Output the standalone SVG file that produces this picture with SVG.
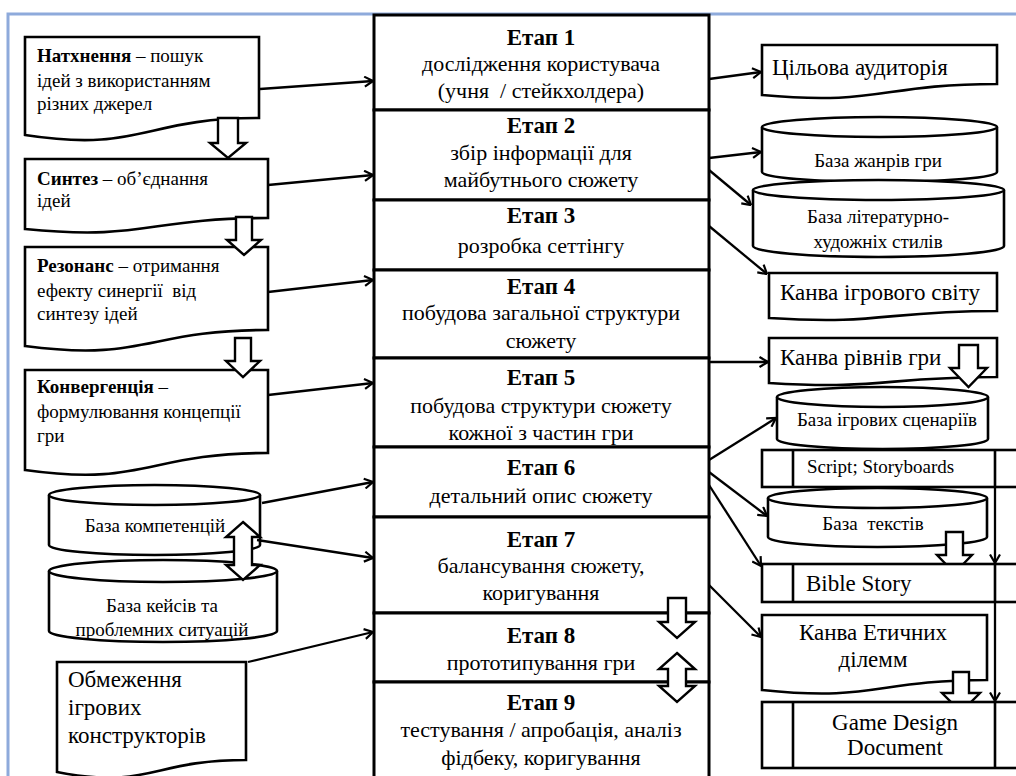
<svg xmlns="http://www.w3.org/2000/svg" width="1016" height="776" viewBox="0 0 1016 776">
<defs>
<style>
.bx{fill:#fff;stroke:#000;stroke-width:2.6;stroke-linejoin:miter}
.st{fill:#fff;stroke:#000;stroke-width:3}
.ba{fill:#fff;stroke:#000;stroke-width:2.4;stroke-linejoin:miter}
.cn{fill:none;stroke:#000;stroke-width:2.3;marker-end:url(#ah)}
.ln{fill:none;stroke:#000;stroke-width:2.6}
</style>
<marker id="ah" viewBox="0 0 10 12" refX="9.5" refY="6" markerWidth="10" markerHeight="12" markerUnits="userSpaceOnUse" orient="auto">
<path d="M1,1 L9.5,6 L1,11" fill="none" stroke="#000" stroke-width="2.2"/>
</marker>
</defs>
<rect x="0" y="0" width="1016" height="776" fill="#fff"/>
<g id="frame">
<path d="M8,776 V14 H1016" fill="none" stroke="#8eaadb" stroke-width="3"/>
</g>

<g id="stage1"><rect class="st" x="374" y="15" width="335" height="95"/>
<text style="font-family:'Liberation Serif',serif !important" font-size="23" font-weight="bold" text-anchor="middle" x="541" y="45">Етап 1</text>
<text style="font-family:'Liberation Serif',serif !important" font-size="22" text-anchor="middle" x="541" y="71">дослідження користувача</text>
<text style="font-family:'Liberation Serif',serif !important;white-space:pre" font-size="22" text-anchor="middle" x="541" y="98">(учня  / стейкхолдера)</text></g>
<g id="stage2"><rect class="st" x="374" y="110" width="335" height="90"/>
<text style="font-family:'Liberation Serif',serif !important" font-size="23" font-weight="bold" text-anchor="middle" x="541" y="133">Етап 2</text>
<text style="font-family:'Liberation Serif',serif !important" font-size="22" text-anchor="middle" x="541" y="160">збір інформації для</text>
<text style="font-family:'Liberation Serif',serif !important" font-size="22" text-anchor="middle" x="541" y="187">майбутнього сюжету</text></g>
<g id="stage3"><rect class="st" x="374" y="200" width="335" height="70"/>
<text style="font-family:'Liberation Serif',serif !important" font-size="23" font-weight="bold" text-anchor="middle" x="541" y="223">Етап 3</text>
<text style="font-family:'Liberation Serif',serif !important" font-size="22" text-anchor="middle" x="541" y="253">розробка сеттінгу</text></g>
<g id="stage4"><rect class="st" x="374" y="270" width="335" height="88"/>
<text style="font-family:'Liberation Serif',serif !important" font-size="23" font-weight="bold" text-anchor="middle" x="541" y="294">Етап 4</text>
<text style="font-family:'Liberation Serif',serif !important" font-size="22" text-anchor="middle" x="541" y="320">побудова загальної структури</text>
<text style="font-family:'Liberation Serif',serif !important" font-size="22" text-anchor="middle" x="541" y="348">сюжету</text></g>
<g id="stage5"><rect class="st" x="374" y="358" width="335" height="89"/>
<text style="font-family:'Liberation Serif',serif !important" font-size="23" font-weight="bold" text-anchor="middle" x="541" y="385">Етап 5</text>
<text style="font-family:'Liberation Serif',serif !important" font-size="22" text-anchor="middle" x="541" y="413">побудова структури сюжету</text>
<text style="font-family:'Liberation Serif',serif !important" font-size="22" text-anchor="middle" x="541" y="440">кожної з частин гри</text></g>
<g id="stage6"><rect class="st" x="374" y="447" width="335" height="70"/>
<text style="font-family:'Liberation Serif',serif !important" font-size="23" font-weight="bold" text-anchor="middle" x="541" y="475">Етап 6</text>
<text style="font-family:'Liberation Serif',serif !important" font-size="22" text-anchor="middle" x="541" y="503">детальний опис сюжету</text></g>
<g id="stage7"><rect class="st" x="374" y="517" width="335" height="96"/>
<text style="font-family:'Liberation Serif',serif !important" font-size="23" font-weight="bold" text-anchor="middle" x="541" y="547">Етап 7</text>
<text style="font-family:'Liberation Serif',serif !important" font-size="22" text-anchor="middle" x="541" y="573">балансування сюжету,</text>
<text style="font-family:'Liberation Serif',serif !important" font-size="22" text-anchor="middle" x="541" y="600">коригування</text></g>
<g id="stage8"><rect class="st" x="374" y="613" width="335" height="69"/>
<text style="font-family:'Liberation Serif',serif !important" font-size="23" font-weight="bold" text-anchor="middle" x="541" y="643">Етап 8</text>
<text style="font-family:'Liberation Serif',serif !important" font-size="22" text-anchor="middle" x="541" y="670">прототипування гри</text></g>
<g id="stage9"><rect class="st" x="374" y="682" width="335" height="100"/>
<text style="font-family:'Liberation Serif',serif !important" font-size="23" font-weight="bold" text-anchor="middle" x="541" y="710">Етап 9</text>
<text style="font-family:'Liberation Serif',serif !important" font-size="22" text-anchor="middle" x="541" y="737">тестування / апробація, аналіз</text>
<text style="font-family:'Liberation Serif',serif !important" font-size="22" text-anchor="middle" x="541" y="765">фідбеку, коригування</text></g>

<g id="inspiration"><path class="bx" d="M25,37 H259 V118 C142,118 142,153 25,135 Z"/>
<text style="font-family:'Liberation Serif',serif !important" font-size="19" x="37" y="62"><tspan font-weight="bold">Натхнення</tspan> – пошук</text>
<text style="font-family:'Liberation Serif',serif !important" font-size="19" x="37" y="87">ідей з використанням</text>
<text style="font-family:'Liberation Serif',serif !important" font-size="19" x="37" y="110">різних джерел</text></g>
<g id="synthesis"><path class="bx" d="M25,159 H268 V218 C146,218 146,241 25,229 Z"/>
<text style="font-family:'Liberation Serif',serif !important" font-size="19" x="37" y="185"><tspan font-weight="bold">Синтез</tspan> – об’єднання</text>
<text style="font-family:'Liberation Serif',serif !important" font-size="19" x="37" y="207">ідей</text></g>
<g id="resonance"><path class="bx" d="M25,247 H268 V330 C146,330 146,362 25,346 Z"/>
<text style="font-family:'Liberation Serif',serif !important" font-size="19" x="37" y="272"><tspan font-weight="bold">Резонанс</tspan> – отримання</text>
<text style="font-family:'Liberation Serif',serif !important;white-space:pre" font-size="19" x="37" y="297">ефекту синергії  від</text>
<text style="font-family:'Liberation Serif',serif !important" font-size="19" x="37" y="320">синтезу ідей</text></g>
<g id="convergence"><path class="bx" d="M25,370 H268 V453 C146,453 146,487 25,470 Z"/>
<text style="font-family:'Liberation Serif',serif !important" font-size="19" x="37" y="393"><tspan font-weight="bold">Конвергенція</tspan> –</text>
<text style="font-family:'Liberation Serif',serif !important" font-size="19" x="37" y="418">формулювання концепції</text>
<text style="font-family:'Liberation Serif',serif !important" font-size="19" x="37" y="442">гри</text></g>
<g id="arrows-left">
<path class="ba" d="M218,118 H238 V143 H246 L228,158 L210,143 H218 Z"/>
<path class="ba" d="M236,217 H252 V240 H261 L244,255 L227,240 H236 Z"/>
<path class="ba" d="M235,338 H251 V361 H260 L243,377 L226,361 H235 Z"/>
</g>
<g id="competencies"><path class="bx" d="M49,495 V545 A105.5,10 0 0 0 260,545 V495"/>
<ellipse class="bx" cx="154.5" cy="495" rx="105.5" ry="10"/>
<text style="font-family:'Liberation Serif',serif !important" font-size="19" text-anchor="middle" x="155" y="532">База компетенцій</text></g>
<g id="cases"><path class="bx" d="M49,571 V631 A114,11 0 0 0 277,631 V571"/>
<ellipse class="bx" cx="163" cy="571" rx="114" ry="11"/>
<text style="font-family:'Liberation Serif',serif !important" font-size="19" text-anchor="middle" x="162" y="612">База кейсів та</text>
<text style="font-family:'Liberation Serif',serif !important" font-size="19" text-anchor="middle" x="162" y="636">проблемних ситуацій</text></g>
<g id="dbl-left"><path class="ba" d="M243,522 L260,537 H252 V565 H260 L243,580 L226,565 H234 V537 H226 Z"/></g>
<g id="constraints"><path class="bx" d="M57,662 H246 V760 C150,760 150,790 57,772 Z"/>
<text style="font-family:'Liberation Serif',serif !important" font-size="23" x="68" y="687">Обмеження</text>
<text style="font-family:'Liberation Serif',serif !important" font-size="23" x="68" y="715">ігрових</text>
<text style="font-family:'Liberation Serif',serif !important" font-size="23" x="68" y="743">конструкторів</text></g>

<g id="audience"><path class="bx" d="M762,45 H997 V84 C880,84 880,106 762,95 Z"/>
<text style="font-family:'Liberation Serif',serif !important" font-size="23" x="772" y="75">Цільова аудиторія</text></g>
<g id="genres"><path class="bx" d="M762,127 V172 A117.5,10 0 0 0 997,172 V127"/>
<ellipse class="bx" cx="879.5" cy="127" rx="117.5" ry="10"/>
<text style="font-family:'Liberation Serif',serif !important" font-size="19" text-anchor="middle" x="878" y="167">База жанрів гри</text></g>
<g id="styles"><path class="bx" d="M753,190 V246 A125.5,11 0 0 0 1004,246 V190"/>
<ellipse class="bx" cx="878.5" cy="190" rx="125.5" ry="10"/>
<text style="font-family:'Liberation Serif',serif !important" font-size="19" text-anchor="middle" x="878" y="223">База літературно-</text>
<text style="font-family:'Liberation Serif',serif !important" font-size="19" text-anchor="middle" x="878" y="248">художніх стилів</text></g>
<g id="world"><path class="bx" d="M769,273 H997 V311 C883,311 883,325 769,318 Z"/>
<text style="font-family:'Liberation Serif',serif !important" font-size="23" x="780" y="300">Канва ігрового світу</text></g>
<g id="levels"><path class="bx" d="M769,338 H997 V377 C883,377 883,390 769,383 Z"/>
<text style="font-family:'Liberation Serif',serif !important" font-size="23" x="780" y="365">Канва рівнів гри</text></g>
<g id="scenarios"><path class="bx" d="M777,397 V439 A105.5,10 0 0 0 988,439 V397"/>
<ellipse class="bx" cx="882.5" cy="397" rx="105.5" ry="10"/>
<text style="font-family:'Liberation Serif',serif !important" font-size="19" text-anchor="middle" x="887" y="426">База ігрових сценаріїв</text></g>
<g id="arrow-levels"><path class="ba" d="M959,345 H978 V368 H987 L968.5,387 L950,368 H959 Z"/></g>
<g id="script"><rect class="bx" x="762" y="450" width="270" height="37"/>
<path class="ln" d="M793,450 V487 M995,450 V487"/>
<text style="font-family:'Liberation Serif',serif !important" font-size="19" x="807" y="473">Script; Storyboards</text></g>
<g id="texts"><path class="bx" d="M768,498 V537 A109.5,10 0 0 0 987,537 V498"/>
<ellipse class="bx" cx="877.5" cy="498" rx="109.5" ry="10"/>
<text style="font-family:'Liberation Serif',serif !important;white-space:pre" font-size="19" text-anchor="middle" x="873" y="530">База  текстів</text></g>
<g id="arrow-texts"><path class="ba" d="M946,532 H963 V555 H972 L954.5,573 L937,555 H946 Z"/></g>
<g id="bible"><rect class="bx" x="762" y="564" width="270" height="38"/>
<path class="ln" d="M793,564 V602 M995,564 V602"/>
<text style="font-family:'Liberation Serif',serif !important" font-size="23" x="806" y="591">Bible Story</text></g>
<g id="dilemmas"><path class="bx" d="M762,615 H987 V680 C875,680 875,702 762,690 Z"/>
<text style="font-family:'Liberation Serif',serif !important" font-size="23" text-anchor="middle" x="873" y="640">Канва Етичних</text>
<text style="font-family:'Liberation Serif',serif !important" font-size="23" text-anchor="middle" x="873" y="667">ділемм</text></g>
<g id="arrow-dilemmas"><path class="ba" d="M953,672 H969 V693 H980 L961,712 L942,693 H953 Z"/></g>
<g id="gdd"><rect class="bx" x="762" y="702" width="270" height="66"/>
<path class="ln" d="M793,702 V768 M995,702 V768"/>
<text style="font-family:'Liberation Serif',serif !important" font-size="23" text-anchor="middle" x="895" y="730">Game Design</text>
<text style="font-family:'Liberation Serif',serif !important" font-size="23" text-anchor="middle" x="895" y="755">Document</text></g>

<g id="arrows-mid">
<path class="ba" d="M668,598 H686 V622 H695 L677,638 L659,622 H668 Z"/>
<path class="ba" d="M677,653 L695,669 H686 V686 H695 L677,702 L659,686 H668 V669 H659 Z"/>
</g>

<g id="connectors">
<path class="cn" d="M260,89 L373,81"/>
<path class="cn" d="M268,185 L373,175"/>
<path class="cn" d="M268,292 L373,280"/>
<path class="cn" d="M268,395 L373,383"/>
<path class="cn" d="M262,503 L373,482"/>
<path class="cn" d="M257,540 L373,558"/>
<path class="cn" d="M248,662 L373,632"/>
<path class="cn" d="M709,79 L761,72"/>
<path class="cn" d="M709,158 L761,152"/>
<path class="cn" d="M709,170 L751,205"/>
<path class="cn" d="M709,226 L767,274"/>
<path class="cn" d="M709,362 L768,362"/>
<path class="cn" d="M709,460 L776,418"/>
<path class="cn" d="M709,472 L767,516"/>
<path class="cn" d="M709,485 L761,566"/>
<path class="cn" d="M709,585 L761,637"/>
<path class="cn" d="M995,487 L995,563"/>
<path class="cn" d="M995,602 L995,701"/>
</g>
</svg>
